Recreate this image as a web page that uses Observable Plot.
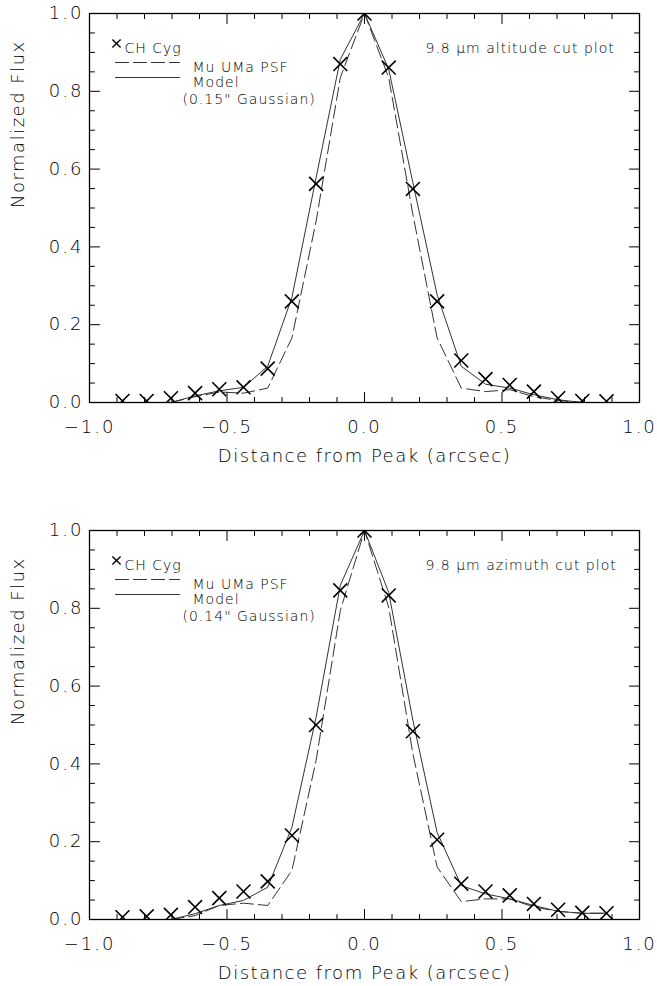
<!DOCTYPE html>
<html>
<head>
<meta charset="utf-8">
<script src="https://cdn.jsdelivr.net/npm/d3@7"></script>
<script src="https://cdn.jsdelivr.net/npm/@observablehq/plot@0.6"></script>
<style>
  body { margin: 0; background: #fff; }
  #chart svg { display: block; font-weight: 200; }
  #chart svg text { letter-spacing: 1.5px; }
  #chart svg g[aria-label$="tick label"] text { letter-spacing: 2px; }
  #chart svg g[font-size="14"] text { letter-spacing: 1px; }
</style>
</head>
<body>
<div id="chart"></div>
<script>
// Offsets from peak (arcsec) of the sampled pixels
const offsets = [-0.880, -0.792, -0.704, -0.616, -0.528, -0.440, -0.352, -0.264, -0.176, -0.088, 0,
                 0.088, 0.176, 0.264, 0.352, 0.440, 0.528, 0.616, 0.704, 0.792, 0.880];
// line curves start at the third offset (-0.704)
const lineStart = 2;

// Altitude cut
const altitudeCHCyg = [0.004, 0.004, 0.011, 0.024, 0.034, 0.039, 0.087, 0.260, 0.562, 0.870, 1.000,
                       0.861, 0.549, 0.260, 0.108, 0.060, 0.045, 0.028, 0.011, 0.004, 0.003];
const altitudePSF   = [0.000, 0.015, 0.027, 0.024, 0.037, 0.166, 0.466, 0.835, 1.000,
                       0.835, 0.483, 0.166, 0.037, 0.028, 0.033, 0.015, 0.005, 0.000, 0.000];
const altitudeModel = [0.000, 0.017, 0.030, 0.039, 0.093, 0.270, 0.578, 0.882, 1.000,
                       0.857, 0.565, 0.277, 0.093, 0.047, 0.037, 0.020, 0.007, 0.000, 0.000];

// Azimuth cut
const azimuthCHCyg = [0.006, 0.008, 0.012, 0.032, 0.055, 0.072, 0.098, 0.216, 0.500, 0.846, 1.000,
                      0.833, 0.484, 0.205, 0.092, 0.072, 0.062, 0.040, 0.025, 0.017, 0.016];
const azimuthPSF   = [0.000, 0.010, 0.036, 0.042, 0.036, 0.126, 0.409, 0.794, 1.000,
                      0.803, 0.426, 0.135, 0.046, 0.053, 0.053, 0.032, 0.021, 0.016, 0.016];
const azimuthModel = [0.000, 0.015, 0.036, 0.049, 0.083, 0.237, 0.520, 0.859, 1.000,
                      0.841, 0.512, 0.224, 0.087, 0.066, 0.053, 0.036, 0.021, 0.016, 0.016];

// Ticks and labels
const xTicksMajor = [-1.0, -0.5, 0.0, 0.5, 1.0];
const xTicksMinor = [-0.9, -0.8, -0.7, -0.6, -0.4, -0.3, -0.2, -0.1, 0.1, 0.2, 0.3, 0.4, 0.6, 0.7, 0.8, 0.9];
const yTicksMajor = [0.0, 0.2, 0.4, 0.6, 0.8, 1.0];
const yTicksMinor = [0.05, 0.10, 0.15, 0.25, 0.30, 0.35, 0.45, 0.50, 0.55, 0.65, 0.70, 0.75, 0.85, 0.90, 0.95];
const xTitle = "Distance from Peak (arcsec)";
const yTitle = "Normalized Flux";
const legendLabels = ["CH Cyg", "Mu UMa PSF", "Model"];
const panelNotes = ["9.8 \u03bcm altitude cut plot", "9.8 \u03bcm azimuth cut plot"];
const gaussianNotes = ["(0.15\" Gaussian)", "(0.14\" Gaussian)"];

const fmt = d3.format(".1f");
// a straight segment pointing "up" from its anchor; rotated for each side
const lineShape = { draw(context, l) { context.moveTo(0, 0); context.lineTo(0, -l); } };

function ticks(values, side, length) {
  const vertical = side === "bottom" || side === "top";
  const rotate = {bottom: 0, top: 180, left: 90, right: -90}[side];
  return Plot.vector(values, {
    [vertical ? "x" : "y"]: d => d,
    frameAnchor: side, rotate, length, anchor: "start",
    shape: lineShape, stroke: "black", strokeWidth: 1
  });
}

function panel(ch, psf, model, note, gauss, height, marginBottom) {
  const pts = offsets.map((x, i) => ({x, y: ch[i]}));
  const lineX = offsets.slice(lineStart);
  const psfPts = lineX.map((x, i) => ({x, y: psf[i]}));
  const modelPts = lineX.map((x, i) => ({x, y: model[i]}));
  return Plot.plot({
    width: 657,
    height,
    marginLeft: 89,
    marginRight: 18,
    marginTop: 13,
    marginBottom,
    style: {fontFamily: "'DejaVu Sans', sans-serif", fontSize: "18px", color: "black", background: "white"},
    x: {domain: [-1, 1]},
    y: {domain: [0, 1]},
    marks: [
      // inward tick marks on all four sides
      ticks(xTicksMajor, "bottom", 10),
      ticks(xTicksMajor, "top", 10),
      ticks(xTicksMinor, "bottom", 5),
      ticks(xTicksMinor, "top", 5),
      ticks(yTicksMajor, "left", 10),
      ticks(yTicksMajor, "right", 10),
      ticks(yTicksMinor, "left", 5),
      ticks(yTicksMinor, "right", 5),
      // tick labels
      Plot.axisX(xTicksMajor, {anchor: "bottom", tickSize: 0, tickPadding: 18, tickFormat: fmt, label: null}),
      Plot.axisY(yTicksMajor, {anchor: "left", tickSize: 0, tickPadding: 6, tickFormat: fmt, label: null}),
      // axis titles
      Plot.text([xTitle], {text: d => d, frameAnchor: "bottom", dy: 54, lineAnchor: "middle", fontSize: 18}),
      Plot.text([yTitle], {text: d => d, frameAnchor: "left", dx: -71, rotate: -90, fontSize: 18}),
      // data
      Plot.line(psfPts, {x: "x", y: "y", stroke: "#333", strokeWidth: 1, strokeDasharray: "13,5", clip: true}),
      Plot.line(modelPts, {x: "x", y: "y", stroke: "#333", strokeWidth: 1, clip: true}),
      Plot.dot(pts, {x: "x", y: "y", symbol: "times", r: 6.4, stroke: "black", strokeWidth: 1.6, clip: true}),
      Plot.frame({stroke: "black", strokeWidth: 1.3}),
      // legend
      Plot.dot([legendLabels[0]], {frameAnchor: "top-left", dx: 27, dy: 30, symbol: "times", r: 3.8, stroke: "black", strokeWidth: 1.4}),
      Plot.text([legendLabels[0]], {text: d => d, frameAnchor: "top-left", dx: 35, dy: 30, textAnchor: "start", fontSize: 14}),
      Plot.vector([legendLabels[1]], {frameAnchor: "top-left", dx: 26, dy: 49, rotate: 90, length: 64, anchor: "start", shape: lineShape, stroke: "#333", strokeWidth: 1, strokeDasharray: "13,5"}),
      Plot.text([legendLabels[1]], {text: d => d, frameAnchor: "top-left", dx: 103, dy: 49, textAnchor: "start", fontSize: 14}),
      Plot.vector([legendLabels[2]], {frameAnchor: "top-left", dx: 26, dy: 64, rotate: 90, length: 64, anchor: "start", shape: lineShape, stroke: "#333", strokeWidth: 1}),
      Plot.text([legendLabels[2]], {text: d => d, frameAnchor: "top-left", dx: 103, dy: 64, textAnchor: "start", fontSize: 14}),
      Plot.text([gauss], {text: d => d, frameAnchor: "top-left", dx: 93, dy: 81, textAnchor: "start", fontSize: 14}),
      Plot.text([note], {text: d => d, frameAnchor: "top-left", dx: 336, dy: 30, textAnchor: "start", fontSize: 14})
    ]
  });
}

const chart = document.getElementById("chart");
chart.append(panel(altitudeCHCyg, altitudePSF, altitudeModel, panelNotes[0], gaussianNotes[0], 517, 115));
chart.append(panel(azimuthCHCyg, azimuthPSF, azimuthModel, panelNotes[1], gaussianNotes[1], 469, 67));
</script>
</body>
</html>
